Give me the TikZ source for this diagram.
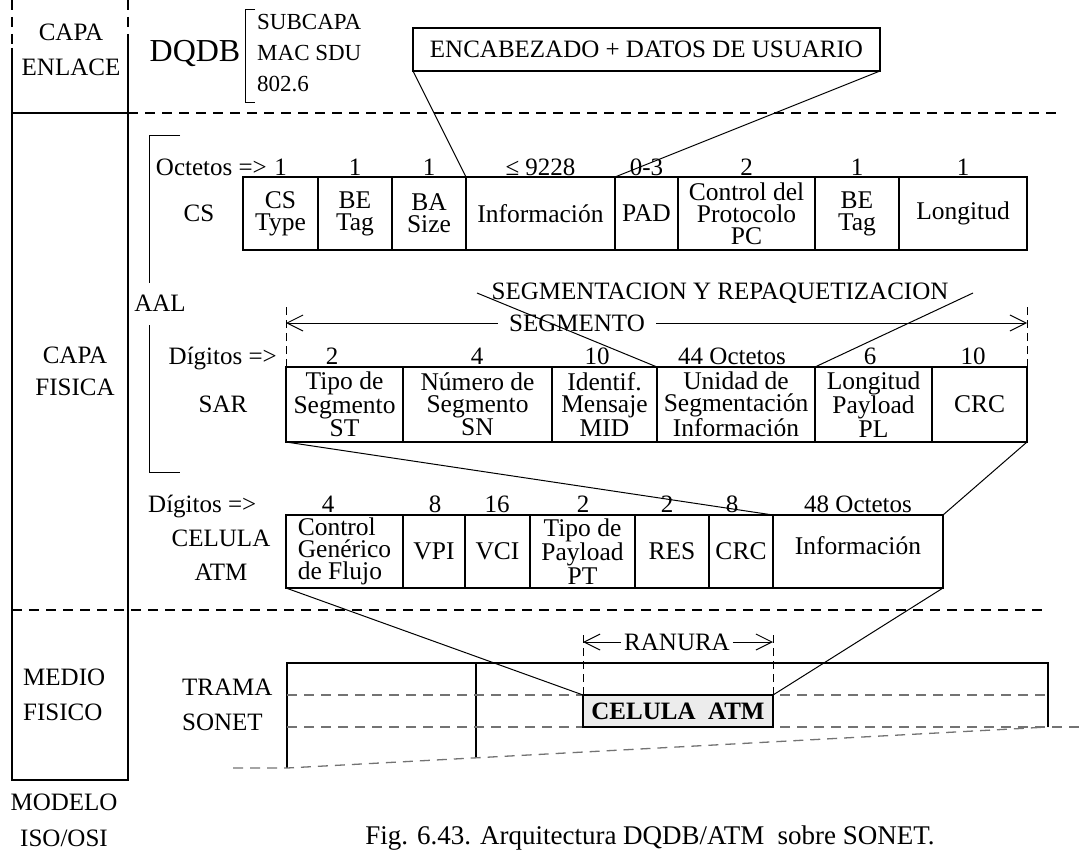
\documentclass[tikz,border=0pt]{standalone}
\usepackage{fontspec}
\setmainfont{Liberation Serif}
\usetikzlibrary{arrows.meta}

\begin{document}
\begin{tikzpicture}[x=1pt, y=-1pt, >={Straight Barb[length=16pt, width=16pt]},
    lbl/.style={inner sep=0pt, font=\fontsize{25}{25}\selectfont},
    cell/.style={draw, line width=2.5pt, inner sep=0pt, outer sep=0pt, align=center,
                 font=\fontsize{25.5}{22}\selectfont},
    fino/.style={line width=1pt},
    grueso/.style={line width=2.5pt},
    dline/.style={line width=1.2pt, dash pattern=on 10pt off 7pt},
    vline/.style={line width=1pt, dash pattern=on 8pt off 5pt},
    gline/.style={line width=1.3pt, black!55, dash pattern=on 10pt off 7pt}]

  \useasboundingbox (0,0) rectangle (1086,851);

  % 模型列
  \draw[dline] (12,0) -- (12,48);
  \draw[dline] (128,0) -- (128,38);
  \draw[grueso] (12,48) -- (12,780) -- (128,780) -- (128,38);
  \draw[grueso] (12,113) -- (128,113);
  \draw[dline] (128,113) -- (1062,113);
  \draw[dline] (12,610) -- (1043,610);

  \node[lbl, align=center, font=\fontsize{25}{35}\selectfont] (enlace) at (71,50) {CAPA\\ENLACE};
  \node[lbl, align=center, font=\fontsize{25}{32}\selectfont] (fisica) at (75,371) {CAPA\\FISICA};
  \node[lbl, anchor=west, align=left, font=\fontsize{25}{35}\selectfont] (medio) at (23,695) {MEDIO\\FISICO};
  \node[lbl, align=center, font=\fontsize{25}{36}\selectfont] (modelo) at (64,820) {MODELO\\ISO/OSI};

  % DQDB
  \node[lbl, font=\fontsize{32}{32}\selectfont] (dqdb) at (195,54) {DQDB};
  \draw[fino] (255,10) -- (245,10) -- (245,102) -- (255,102);
  \node[lbl, anchor=west, align=left, font=\fontsize{23}{31}\selectfont] (subcapa) at (257,53) {SUBCAPA\\MAC SDU\\802.6};
  \node[draw, grueso, lbl, outer sep=0pt, minimum width=467pt, minimum height=43pt] (enc) at (646.5,49.5) {ENCABEZADO + DATOS DE USUARIO};

  % AAL
  \node[lbl] (aal) at (160,303) {AAL};
  \draw[fino] (180,135) -- (149,135) -- (149,283);
  \draw[fino] (149,325) -- (149,472) -- (180,472);

  % CS
  \node[lbl, anchor=base east] (octetos) at (267,175) {Octetos =>};
  \node[lbl] (cslbl) at (199,213) {CS};
  \foreach \n/\xa/\xb/\t in {cs1/243/318/{CS\\Type}, cs2/318/392/{BE\\Tag}, cs3/392/466/{BA\\Size},
      cs4/466/615/{Información}, cs5/615/678/{PAD}, cs6/678/815/{Control del\\Protocolo\\PC},
      cs7/815/899/{BE\\Tag}, cs8/899/1027/{Longitud}}
    \node[cell, minimum width={(\xb-\xa)*1pt}, minimum height=73pt] (\n) at ({(\xa+\xb)/2},213.5) {\t};
  \foreach \v [count=\i] in {1, 1, 1, ≤ 9228, 0-3, 2, 1, 1}
    \node[lbl, anchor=base] (oc\i) at (cs\i.north |- 0,175) {\v};

  % SAR
  \node[lbl] (segm) at (720,293) {SEGMENTACION Y REPAQUETIZACION};
  \node[lbl, inner xsep=11pt] (seg) at (577,323) {SEGMENTO};
  \node[lbl, anchor=base east] (dig1) at (277,364) {Dígitos =>};
  \node[lbl] (sarlbl) at (223,404) {SAR};
  \foreach \n/\xa/\xb/\t in {sar1/286/403/{Tipo de\\Segmento\\ST}, sar2/403/552/{Número de\\Segmento\\SN},
      sar3/552/657/{Identif.\\Mensaje\\MID}, sar4/657/815/{Unidad de\\Segmentación\\Información},
      sar5/815/932/{Longitud\\Payload\\PL}, sar6/932/1027/{CRC}}
    \node[cell, minimum width={(\xb-\xa)*1pt}, minimum height=75pt] (\n) at ({(\xa+\xb)/2},404.5) {\t};
  \foreach \x/\v [count=\i] in {332/2, 477/4, 597/10, 732/44 Octetos, 870/6, 973/10}
    \node[lbl, anchor=base] (dg\i) at (\x,364) {\v};

  % 信元
  \node[lbl, anchor=base west] (dig2) at (148,512) {Dígitos =>};
  \node[lbl, align=center, font=\fontsize{25}{34}\selectfont] (cellbl) at (221,555) {CELULA\\ATM};
  \node[cell, align=left, minimum width=117pt, minimum height=73pt] (atm1) at (344.5,551.5) {Control\\Genérico\\de Flujo};
  \foreach \n/\xa/\xb/\t in {atm2/403/465/{VPI}, atm3/465/530/{VCI}, atm4/530/635/{Tipo de\\Payload\\PT},
      atm5/635/709/{RES}, atm6/709/773/{CRC}}
    \node[cell, minimum width={(\xb-\xa)*1pt}, minimum height=73pt] (\n) at ({(\xa+\xb)/2},551.5) {\t};
  \node[cell, minimum width=170pt, minimum height=73pt, text depth=12pt] (atm7) at (858,551.5) {Información};
  \foreach \x/\v [count=\i] in {328/4, 435/8, 497/16, 583/2, 667/2, 732/8, 858/48 Octetos}
    \node[lbl, anchor=base] (da\i) at (\x,512) {\v};

  % 同步帧
  \node[lbl, anchor=west, align=left, font=\fontsize{25}{35}\selectfont] (trama) at (182,705) {TRAMA\\SONET};
  \draw[grueso] (287,768) -- (287,663) -- (1048,663) -- (1048,727);
  \draw[grueso] (476,663) -- (476,758);
  \draw[gline] (287,695) -- (1048,695);
  \draw[gline] (287,727) -- (1086,727);
  \draw[gline] (233,768) -- (287,768) -- (1048,727);
  \node[draw, grueso, fill=gray!15, inner sep=0pt, outer sep=0pt, minimum width=190pt, minimum height=32pt,
        font=\fontsize{25}{25}\selectfont\bfseries] (cel) at (678,711) {CELULA\ \ ATM};

  % 连线
  \draw[fino] (enc.south west) -- (cs4.north west);
  \draw[fino] (enc.south east) -- (cs5.north west);
  \coordinate (rl) at (477,293);
  \coordinate (rr) at (973,293);
  \draw[fino] (sar4.north west) -- (rl);
  \draw[fino] (sar5.north west) -- (rr);
  \draw[fino] (sar1.south west) -- (atm7.north west);
  \draw[fino] (sar6.south east) -- (atm7.north east);
  \draw[fino] (atm1.south west) -- (cel.north west);
  \draw[fino] (atm7.south east) -- (cel.north east);

  % 段与时隙
  \coordinate (segtop) at (0,303);
  \draw[vline] (sar1.north west) -- (sar1.north west |- segtop);
  \draw[vline] (sar6.north east) -- (sar6.north east |- segtop);
  \draw[fino, ->] (seg.west) -- (seg.west -| sar1.north west);
  \draw[fino, ->] (seg.east) -- (seg.east -| sar6.north east);

  \node[lbl, inner xsep=3pt] (ran) at (677,642) {RANURA};
  \coordinate (rantop) at (0,632);
  \draw[vline] (cel.north west) -- (cel.north west |- rantop);
  \draw[vline] (cel.north east) -- (cel.north east |- rantop);
  \draw[fino, ->] (ran.west) -- (ran.west -| cel.north west);
  \draw[fino, ->] (ran.east) -- (ran.east -| cel.north east);

  \node[lbl, font=\fontsize{27}{27}\selectfont] (fig) at (650,838) {Fig. 6.43. Arquitectura DQDB/ATM\ \ sobre SONET.};

\end{tikzpicture}
\end{document}
